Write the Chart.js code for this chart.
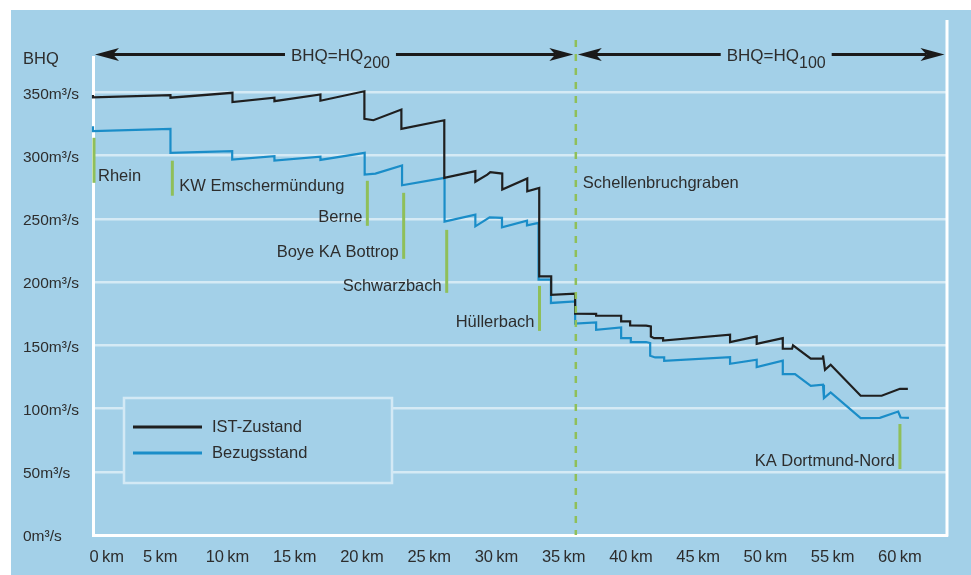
<!DOCTYPE html>
<html>
<head>
<meta charset="utf-8">
<script src="https://cdn.jsdelivr.net/npm/chart.js@4.4.0/dist/chart.umd.min.js"></script>
<style>
  html, body { margin: 0; padding: 0; background: #fff; }
  canvas { display: block; }
</style>
</head>
<body>
<canvas id="bhqChart" width="971" height="575"></canvas>
<script>
// Tick positions
const kmTicks = [0, 5, 10, 15, 20, 25, 30, 35, 40, 45, 50, 55, 60];
const qTicks = [0, 50, 100, 150, 200, 250, 300, 350];

// IST-Zustand (km / m3/s), steps are pairs with the same km
const istKm = [0, 0, 5.76, 5.76, 10.37, 10.37, 13.49, 13.49, 16.91, 16.91, 20.18, 20.18, 20.85,
  22.93, 22.93, 26.12, 26.12, 28.43, 28.43, 29.32, 29.54, 30.43, 30.43, 32.29, 32.29, 33.18, 33.18,
  34.07, 34.07, 35.85, 35.85, 37.41, 37.41, 39.27, 39.27, 39.94, 39.94, 41.13, 41.48, 41.48, 41.72,
  42.39, 42.39, 47.37, 47.37, 49.35, 49.35, 51.29, 51.29, 51.98, 52.05, 53.37, 54.28, 54.28, 54.43,
  54.85, 57.08, 58.64, 60.0, 60.59];
const istQ = [348, 346, 347.8, 345.8, 349.7, 342.3, 345.8, 343.1, 348.4, 343.4, 350.9, 329.2, 328.0,
  336.5, 321.2, 328.0, 282.4, 287.7, 279.3, 285.0, 286.9, 285.8, 273.2, 281.9, 271.8, 274.5, 204.5,
  204.5, 190.0, 190.8, 175.0, 174.8, 173.4, 173.4, 168.9, 168.9, 165.7, 165.5, 164.9, 157.0, 155.7,
  155.7, 153.8, 158.4, 152.6, 157.0, 151.2, 155.7, 147.3, 147.3, 149.9, 139.4, 139.4, 142.0, 130.6,
  134.6, 110.1, 110.1, 115.6, 115.6];

// Bezugsstand
const bezKm = [0, 0, 5.76, 5.76, 10.35, 10.35, 13.49, 13.49, 16.91, 16.91, 20.2, 20.2, 21.0,
  22.98, 22.98, 26.14, 26.14, 28.43, 28.43, 29.49, 30.41, 30.41, 32.27, 32.27, 33.13, 33.13,
  34.05, 34.05, 35.85, 35.85, 37.41, 37.41, 39.27, 39.27, 39.99, 39.99, 41.13, 41.43, 41.43, 41.8,
  42.47, 42.47, 47.37, 47.37, 49.35, 49.35, 51.29, 51.29, 52.2, 53.37, 54.28, 54.35, 54.85, 57.08,
  58.51, 59.87, 60.05, 60.67];
const bezQ = [323.3, 319.4, 321.2, 302.2, 303.5, 296.9, 299.5, 296.1, 299.1, 296.6, 302.2, 285.0, 285.8,
  292.2, 276.6, 282.4, 247.8, 253.4, 244.1, 251.2, 250.8, 243.3, 248.6, 244.9, 246.8, 201.9,
  201.9, 183.5, 184.7, 167.1, 168.1, 162.3, 164.1, 155.7, 155.7, 152.6, 152.6, 151.8, 141.7, 140.4,
  140.4, 137.8, 140.7, 135.4, 138.6, 132.8, 137.8, 127.2, 127.2, 118.0, 118.8, 108.2, 112.7, 92.4,
  92.6, 97.6, 92.9, 92.6];

// Zuflüsse (green markers)
const markerLabels = ["Rhein", "KW Emschermündung", "Berne", "Boye KA Bottrop", "Schwarzbach", "Hüllerbach", "KA Dortmund-Nord"];
const markerKm = [0, 5.9, 20.4, 23.1, 26.3, 33.2, 60.0];
const markerTop = [314.1, 296, 280.1, 270.6, 241.3, 197, 87.8];
const markerBottom = [278.5, 268.3, 244.5, 218.4, 191.5, 161.4, 52.2];
const markerLabelQ = [283.3, 275.4, 250.8, 223.1, 196.2, 167.7, 57.8];
const markerSide = ["right", "right", "left", "left", "left", "left", "left"];

// Boundary between the HQ200 and HQ100 stretches
const boundaryKm = 35.9;
const boundaryLabel = "Schellenbruchgraben";
const boundaryLabelQ = 277.8;

// Zones drawn as arrows over the plot
const zoneFrom = [0, 35.9];
const zoneTo = [35.9, 63.5];
const zoneMain = ["BHQ=HQ", "BHQ=HQ"];
const zoneSub = ["200", "100"];
const zoneLabelKm = [18.4, 50.8];
const zoneQ = 380;

const FONT = "'Liberation Sans', Arial, sans-serif";
const TEXT = "#2d2d2d";
const BG = "#a3d0e8";

function arrowHead(ctx, tipX, y, dir) {
  ctx.beginPath();
  ctx.moveTo(tipX, y);
  ctx.lineTo(tipX - dir * 24, y - 6.5);
  ctx.lineTo(tipX - dir * 18, y);
  ctx.lineTo(tipX - dir * 24, y + 6.5);
  ctx.closePath();
  ctx.fill();
}

const decorPlugin = {
  id: "decor",
  beforeDraw(chart) {
    const { ctx, width, height } = chart;
    ctx.save();
    ctx.fillStyle = "#fff";
    ctx.fillRect(0, 0, width, height);
    ctx.fillStyle = BG;
    ctx.fillRect(11, 10, width - 11, height - 10);
    ctx.restore();
  },
  afterDatasetsDraw(chart) {
    const { ctx, chartArea } = chart;
    const xs = chart.scales.x;
    const ys = chart.scales.y;
    ctx.save();

    // right frame line
    ctx.strokeStyle = "#fff";
    ctx.lineWidth = 3;
    ctx.beginPath();
    ctx.moveTo(chartArea.right, 20);
    ctx.lineTo(chartArea.right, chartArea.bottom + 1.5);
    ctx.stroke();

    // "BHQ" unit label
    ctx.fillStyle = TEXT;
    ctx.font = "16.5px " + FONT;
    ctx.textBaseline = "middle";
    ctx.textAlign = "left";
    ctx.fillText("BHQ", 23, 59);

    // green markers + labels
    ctx.strokeStyle = "#8fbf5a";
    ctx.lineWidth = 3;
    markerKm.forEach((km, i) => {
      const x = xs.getPixelForValue(km) + (km === 0 ? 1 : 0);
      ctx.beginPath();
      ctx.moveTo(x, ys.getPixelForValue(markerTop[i]));
      ctx.lineTo(x, ys.getPixelForValue(markerBottom[i]));
      ctx.stroke();
      const right = markerSide[i] === "right";
      ctx.textAlign = right ? "left" : "right";
      ctx.fillText(markerLabels[i], x + (right ? (km === 0 ? 4 : 7) : -5), ys.getPixelForValue(markerLabelQ[i]));
    });

    // dashed boundary
    const bx = xs.getPixelForValue(boundaryKm);
    ctx.lineWidth = 2.5;
    ctx.setLineDash([7, 7]);
    ctx.beginPath();
    ctx.moveTo(bx, 40);
    ctx.lineTo(bx, chartArea.bottom);
    ctx.stroke();
    ctx.setLineDash([]);
    ctx.textAlign = "left";
    ctx.fillText(boundaryLabel, bx + 7, ys.getPixelForValue(boundaryLabelQ));

    // zone arrows
    const ay = ys.getPixelForValue(zoneQ);
    ctx.fillStyle = "#1a1a1a";
    ctx.strokeStyle = "#1a1a1a";
    ctx.lineWidth = 3;
    zoneFrom.forEach((from, i) => {
      const x1 = xs.getPixelForValue(from) + 2;
      const x2 = xs.getPixelForValue(zoneTo[i]) - 2.5;
      const cx = xs.getPixelForValue(zoneLabelKm[i]);
      ctx.font = "17px " + FONT;
      const wMain = ctx.measureText(zoneMain[i]).width;
      ctx.font = "16px " + FONT;
      const wSub = ctx.measureText(zoneSub[i]).width;
      const tx = cx - (wMain + wSub) / 2;
      ctx.beginPath();
      ctx.moveTo(x1 + 18, ay);
      ctx.lineTo(tx - 6, ay);
      ctx.moveTo(tx + wMain + wSub + 6, ay);
      ctx.lineTo(x2 - 18, ay);
      ctx.stroke();
      arrowHead(ctx, x1, ay, -1);
      arrowHead(ctx, x2, ay, 1);
      ctx.fillStyle = TEXT;
      ctx.textAlign = "left";
      ctx.textBaseline = "alphabetic";
      ctx.font = "17px " + FONT;
      ctx.fillText(zoneMain[i], tx, ay + 6.5);
      ctx.font = "16px " + FONT;
      ctx.fillText(zoneSub[i], tx + wMain, ay + 14);
      ctx.fillStyle = "#1a1a1a";
    });

    // legend box
    ctx.fillStyle = BG;
    ctx.fillRect(124, 398, 268, 85);
    ctx.strokeStyle = "#d3e9f5";
    ctx.lineWidth = 2.5;
    ctx.strokeRect(124, 398, 268, 85);
    ctx.font = "16.5px " + FONT;
    ctx.textBaseline = "middle";
    ctx.textAlign = "left";
    chart.data.datasets.forEach((ds, i) => {
      const ly = 427 + i * 26;
      ctx.strokeStyle = ds.borderColor;
      ctx.lineWidth = 3;
      ctx.beginPath();
      ctx.moveTo(133, ly);
      ctx.lineTo(202, ly);
      ctx.stroke();
      ctx.fillStyle = TEXT;
      ctx.fillText(ds.label, 212, ly);
    });

    ctx.restore();
  }
};

const ctx = document.getElementById("bhqChart").getContext("2d");
new Chart(ctx, {
  type: "line",
  data: {
    datasets: [
      {
        label: "IST-Zustand",
        data: istKm.map((km, i) => ({ x: km, y: istQ[i] })),
        borderColor: "#1f1f1f",
        borderWidth: 2.2,
        pointRadius: 0,
        tension: 0,
        clip: 4
      },
      {
        label: "Bezugsstand",
        data: bezKm.map((km, i) => ({ x: km, y: bezQ[i] })),
        borderColor: "#1a8dc8",
        borderWidth: 2.2,
        pointRadius: 0,
        tension: 0,
        clip: 4
      }
    ]
  },
  options: {
    responsive: false,
    animation: false,
    events: [],
    layout: { padding: { left: 23, top: 57, right: 24, bottom: 0 } },
    plugins: {
      legend: { display: false },
      tooltip: { enabled: false }
    },
    scales: {
      x: {
        type: "linear",
        min: 0,
        max: 63.5,
        afterBuildTicks: (s) => { s.ticks = kmTicks.map((v) => ({ value: v })); },
        afterFit: (s) => { s.height = 40; },
        grid: { color: "transparent", drawTicks: false },
        border: { display: true, color: "#fff", width: 3 },
        ticks: {
          padding: 13,
          color: TEXT,
          font: { family: FONT, size: 16.5 },
          maxRotation: 0,
          autoSkip: false,
          callback: (v) => (v === 0 ? "\u2007\u2007\u2007" : "") + v + "\u2009km"
        }
      },
      y: {
        type: "linear",
        min: 0,
        max: 378,
        afterBuildTicks: (s) => { s.ticks = qTicks.map((v) => ({ value: v })); },
        afterFit: (s) => { s.width = 70; },
        grid: { color: "rgba(255,255,255,0.55)", lineWidth: 2.5, drawTicks: false },
        border: { display: true, color: "#fff", width: 3 },
        ticks: {
          padding: 0,
          crossAlign: "far",
          labelOffset: 2,
          color: TEXT,
          font: { family: FONT, size: 15.5 },
          autoSkip: false,
          callback: (v) => v + "m\u00b3/s"
        }
      }
    }
  },
  plugins: [decorPlugin]
});
</script>
</body>
</html>
